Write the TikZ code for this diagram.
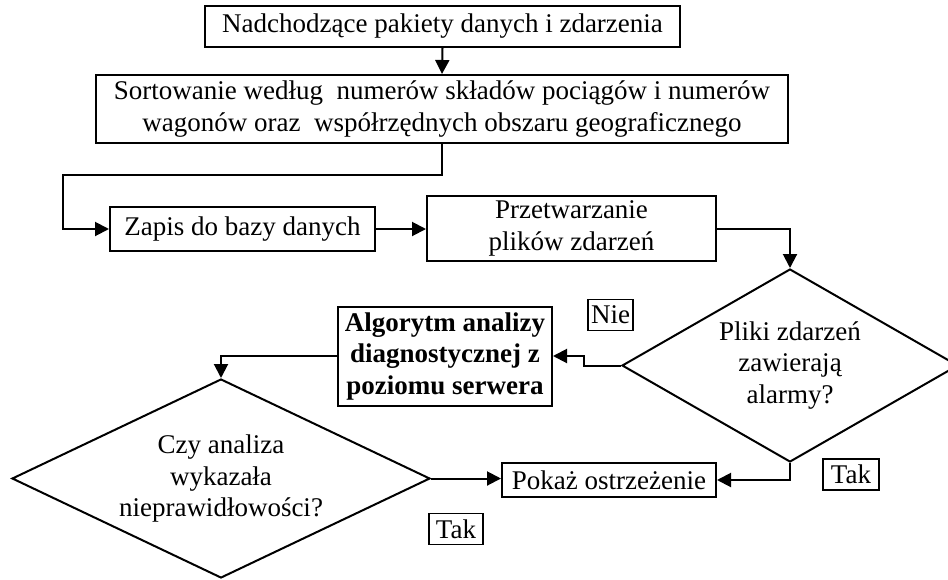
\documentclass[tikz,border=0pt]{standalone}
\usepackage{fontspec}
\setmainfont{Liberation Serif}
\usetikzlibrary{shapes.geometric,arrows.meta}

\tikzset{
  txt/.style={font=\fontsize{27}{31.5}\selectfont, align=center},
  stepbox/.style={txt, draw, line width=2pt, inner sep=0pt},
  decision/.style={draw, diamond, line width=2pt, inner sep=0pt, aspect=2},
  tag/.style={txt, draw, line width=1.5pt, inner sep=0pt, minimum height=31pt},
  conn/.style={line width=2pt},
  arr/.style={conn, -{Triangle[length=14pt,width=14pt]}}
}

\begin{document}
\begin{tikzpicture}[x=1pt,y=-1pt]
  \useasboundingbox (0,0) rectangle (948,579);

  % process steps
  \node[stepbox, minimum width=475pt, minimum height=41pt] (b1) at (442.5,26.5)
    {Nadchodzące pakiety danych i zdarzenia};
  \node[stepbox, minimum width=692pt, minimum height=68pt] (b2) at (442,109)
    {Sortowanie według\ \ numerów składów pociągów i numerów\\
     wagonów oraz\ \ współrzędnych obszaru geograficznego};
  \node[stepbox, minimum width=265pt, minimum height=44pt] (b3) at (242.5,229)
    {Zapis do bazy danych};
  \node[stepbox, minimum width=289pt, minimum height=65pt] (b4) at (571.5,228.5)
    {Przetwarzanie\\plików zdarzeń};
  \node[stepbox, minimum width=214pt, minimum height=99pt] (alg) at (445,356)
    {\bfseries Algorytm analizy\\\bfseries diagnostycznej z\\\bfseries poziomu serwera};
  \node[stepbox, minimum width=214pt, minimum height=34pt] (pk) at (609,480)
    {Pokaż ostrzeżenie};

  % decisions
  \node[decision, minimum width=336pt, minimum height=193pt] (d1) at (790,365.5) {};
  \node[txt] (d1t) at (d1.center) {Pliki zdarzeń\\zawierają\\alarmy?};
  \node[decision, minimum width=418pt, minimum height=199pt] (d2) at (221,478.5) {};
  \node[txt] (d2t) at (d2.center) {Czy analiza\\wykazała\\nieprawidłowości?};

  % branch labels
  \node[tag, minimum width=45pt] (nie) at (610.5,315) {Nie};
  \node[tag, minimum width=56pt] (tak1) at (851,474.5) {Tak};
  \node[tag, minimum width=54pt] (tak2) at (456,529) {Tak};

  % bend points
  \coordinate (k1) at (63,175);
  \coordinate (k2) at (584,0);

  % connectors
  \draw[arr] (b1.south) -- (b2.north);
  \draw[arr] (b2.south) |- (k1) |- (b3.west);
  \draw[arr] (b3.east) -- (b3.east -| b4.west);
  \draw[arr] (b4.east) -| (d1.north);
  \draw[arr] (d1.west) -- (d1.west -| k2) |- (alg.east);
  \draw[arr] (alg.west) -| (d2.north);
  \draw[arr] (d2.east) -- (d2.east -| pk.west);
  \draw[arr] (d1.south) |- (pk.east);
\end{tikzpicture}
\end{document}
